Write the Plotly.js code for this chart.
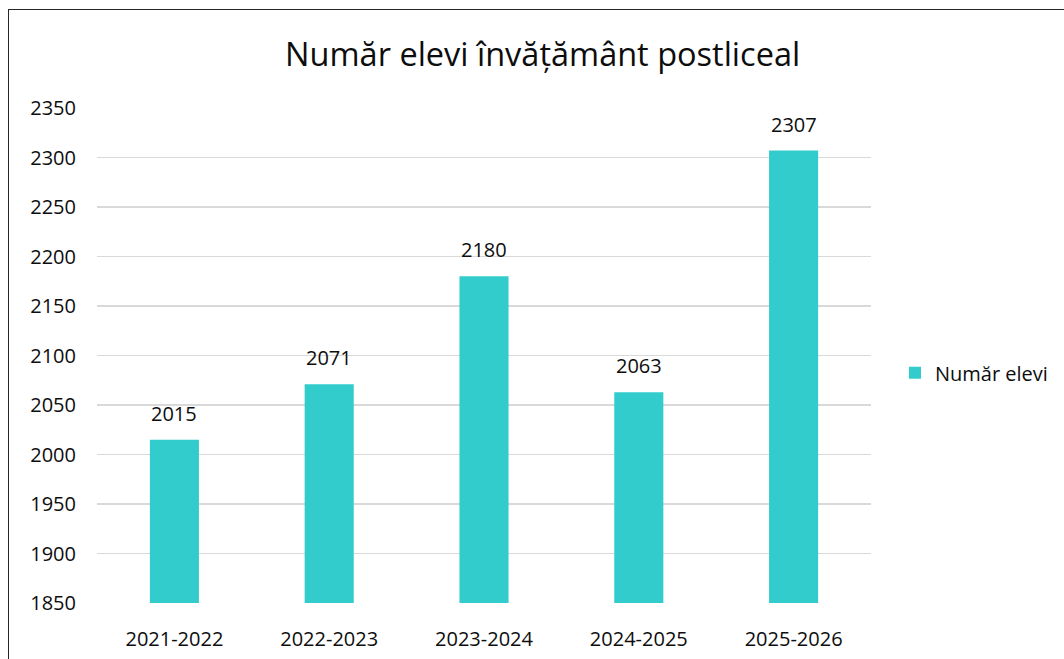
<!DOCTYPE html>
<html>
<head>
<meta charset="utf-8">
<script src="https://cdn.plot.ly/plotly-3.0.1.min.js"></script>
<style>
html,body{margin:0;padding:0;background:#fff;overflow:hidden;}
#wrap{position:relative;width:1064px;height:659px;overflow:hidden;}
#chart{position:absolute;left:0;top:0;width:1064px;height:659px;}
#frame{position:absolute;left:8px;top:9px;width:2000px;height:2000px;border:1.5px solid #262626;pointer-events:none;}
</style>
</head>
<body>
<div id="wrap">
<div id="chart"></div>
<div id="frame"></div>
</div>
<script>
const categories = ["2021-2022", "2022-2023", "2023-2024", "2024-2025", "2025-2026"];
const values = [2015, 2071, 2180, 2063, 2307];
const seriesName = "Număr elevi";
const chartTitle = "Număr elevi învățământ postliceal";
const yTicks = [1850, 1900, 1950, 2000, 2050, 2100, 2150, 2200, 2250, 2300, 2350];

const FONT = "Open Sans, Noto Sans, sans-serif";
const TXT = "#0d0d0d";

const trace = {
  type: "bar",
  x: categories,
  y: values,
  name: seriesName,
  marker: {color: "#33CCCC"},
  showlegend: true,
  hoverinfo: "x+y"
};

const annotations = categories.map((c, i) => ({
  x: c, y: values[i], xref: "x", yref: "y",
  text: String(values[i]), showarrow: false,
  yanchor: "bottom", yshift: 11,
  font: {family: FONT, size: 20, color: TXT}
}));

const layout = {
  width: 1064, height: 659,
  margin: {l: 97, r: 193, t: 108, b: 56, pad: 0, autoexpand: false},
  paper_bgcolor: "#ffffff", plot_bgcolor: "#ffffff",
  font: {family: FONT, size: 20, color: TXT},
  title: {
    text: chartTitle,
    font: {family: FONT, size: 32.5, color: TXT},
    x: 0.510, xanchor: "center", xref: "container",
    y: 0.917, yanchor: "middle", yref: "container"
  },
  bargap: 0.683,
  xaxis: {
    type: "category",
    showgrid: false, zeroline: false,
    showline: false, ticks: "",
    ticklabelstandoff: 22,
    tickfont: {family: FONT, size: 20, color: TXT},
    fixedrange: true
  },
  yaxis: {
    range: [1850, 2350],
    tickvals: yTicks,
    ticktext: yTicks.map(String),
    showgrid: true, gridcolor: "#d9d9d9", gridwidth: 1.4,
    zeroline: false, showline: false, ticks: "",
    ticklabelstandoff: 20,
    tickfont: {family: FONT, size: 20, color: TXT},
    fixedrange: true
  },
  showlegend: true,
  legend: {
    x: 1.031, xanchor: "left", xref: "paper",
    y: 0.465, yanchor: "middle", yref: "paper",
    font: {family: FONT, size: 20, color: TXT},
    bgcolor: "rgba(0,0,0,0)",
    itemwidth: 30
  },
  annotations: annotations
};

Plotly.newPlot("chart", [trace], layout, {displayModeBar: false, staticPlot: true});
</script>
</body>
</html>
